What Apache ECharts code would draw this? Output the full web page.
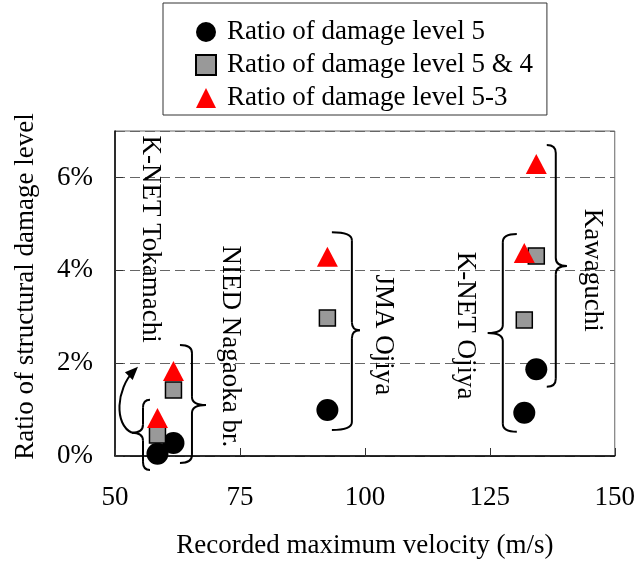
<!DOCTYPE html>
<html>
<head>
<meta charset="utf-8">
<script src="https://cdn.jsdelivr.net/npm/echarts@6/dist/echarts.min.js"></script>
<style>
  html, body { margin: 0; padding: 0; background: #fff; }
  #chart { width: 638px; height: 565px; }
</style>
</head>
<body>
<div id="chart"></div>
<script>
// Observation sites and recorded maximum velocity (m/s)
const sites = ['K-NET Tokamachi', 'NIED Nagaoka br.', 'JMA Ojiya', 'K-NET Ojiya', 'Kawaguchi'];
const velocity = [58.5, 61.7, 92.5, 131.9, 134.3];

// Ratio of structural damage (%) per site
const ratioLevel5 = [0.05, 0.28, 0.99, 0.93, 1.87];
const ratioLevel54 = [0.45, 1.42, 2.97, 2.93, 4.31];
const ratioLevel53 = [0.82, 1.83, 4.29, 4.37, 6.29];

// Axis ticks
const xTicks = [50, 75, 100, 125, 150];
const yTicks = [0, 2, 4, 6];

const seriesNames = ['Ratio of damage level 5', 'Ratio of damage level 5 & 4', 'Ratio of damage level 5-3'];

// Brace annotations grouping each site's markers (anchored in axis units)
const annotations = [
  { site: 0, spine: 55.6, top: 1.21, tip: 0.50, bottom: -0.30, side: -1, hook: 7, reach: 11, labelX: 57.0, labelY: 4.67 },
  { site: 1, spine: 65.4, top: 2.39, tip: 1.10, bottom: -0.15, side: 1, hook: 12, reach: 14, labelX: 73.0, labelY: 2.36 },
  { site: 2, spine: 97.4, top: 4.82, tip: 2.71, bottom: 0.56, side: 1, hook: 20, reach: 8, labelX: 103.6, labelY: 2.61 },
  { site: 3, spine: 127.6, top: 4.78, tip: 2.65, bottom: 0.52, side: -1, hook: 14, reach: 15, labelX: 120.0, labelY: 2.81 },
  { site: 4, spine: 138.2, top: 6.70, tip: 4.09, bottom: 1.49, side: 1, hook: 9, reach: 11, labelX: 145.4, labelY: 4.00 }
];
// Arrow from the Tokamachi brace up to its label
const arrowEnd = [54.6, 1.92];

const FONT = '"Liberation Serif", "Times New Roman", serif';
const pairs = (ys) => velocity.map((v, i) => [v, ys[i]]);

const chart = echarts.init(document.getElementById('chart'), null, { renderer: 'canvas' });

const option = {
  animation: false,
  backgroundColor: '#ffffff',
  textStyle: { fontFamily: FONT, color: '#000' },
  grid: {
    left: 115, right: 23, top: 131, bottom: 109,
    show: true, borderColor: '#666', borderWidth: 1, backgroundColor: 'transparent'
  },
  legend: {
    orient: 'vertical',
    left: 163, top: 3,
    padding: [14, 14, 2, 32],
    itemGap: 3,
    itemWidth: 20, itemHeight: 20,
    borderColor: '#333', borderWidth: 1,
    data: seriesNames,
    textStyle: { fontFamily: FONT, fontSize: 27, color: '#000', lineHeight: 30, padding: [0, 0, 0, 6] }
  },
  xAxis: {
    type: 'value',
    min: xTicks[0], max: xTicks[xTicks.length - 1], interval: xTicks[1] - xTicks[0],
    name: 'Recorded maximum velocity (m/s)',
    nameLocation: 'middle', nameGap: 76,
    nameTextStyle: { fontFamily: FONT, fontSize: 27, color: '#000' },
    axisLine: { show: true, lineStyle: { color: '#000', width: 1.5 } },
    axisTick: { show: true, inside: true, length: 8, lineStyle: { color: '#333', width: 1 } },
    axisLabel: { fontFamily: FONT, fontSize: 27, color: '#000', margin: 28 },
    splitLine: { show: false }
  },
  yAxis: {
    type: 'value',
    min: yTicks[0], max: 7, interval: yTicks[1] - yTicks[0],
    name: 'Ratio of structural damage level',
    nameLocation: 'middle', nameGap: 76,
    nameTextStyle: { fontFamily: FONT, fontSize: 27, color: '#000', padding: [0, 0, 0, 14] },
    axisLine: { show: true, lineStyle: { color: '#000', width: 1.5 } },
    axisTick: { show: true, inside: true, length: 8, lineStyle: { color: '#333', width: 1 } },
    axisLabel: {
      fontFamily: FONT, fontSize: 27, color: '#000', margin: 22, showMaxLabel: false,
      padding: [6, 0, 0, 0],
      formatter: (v) => (yTicks.indexOf(v) >= 0 ? v + '%' : '')
    },
    splitLine: { show: true, lineStyle: { color: '#666', width: 1, type: [10, 5] } }
  },
  series: [
    {
      name: seriesNames[0], type: 'scatter', clip: false, z: 3,
      symbol: 'circle', symbolSize: 22,
      itemStyle: { color: '#000', opacity: 1 },
      data: pairs(ratioLevel5)
    },
    {
      name: seriesNames[1], type: 'scatter', clip: false, z: 4,
      symbol: 'rect', symbolSize: 16,
      itemStyle: { color: '#999999', borderColor: '#000', borderWidth: 1.5, opacity: 1 },
      data: pairs(ratioLevel54)
    },
    {
      name: seriesNames[2], type: 'scatter', clip: false, z: 5,
      symbol: 'triangle', symbolSize: [21, 20],
      itemStyle: { color: '#ff0000', opacity: 1 },
      data: pairs(ratioLevel53)
    }
  ]
};

chart.setOption(option);

const px = (x, y) => chart.convertToPixel({ gridIndex: 0 }, [x, y]);
const graphics = [];
const stroke = { fill: null, stroke: '#000', lineWidth: 2 };

function quad(x1, y1, cx, cy, x2, y2) {
  return { type: 'bezierCurve', z: 10, shape: { x1: x1, y1: y1, cpx1: cx, cpy1: cy, x2: x2, y2: y2 }, style: stroke };
}
function seg(x1, y1, x2, y2) {
  return { type: 'line', z: 10, shape: { x1: x1, y1: y1, x2: x2, y2: y2 }, style: stroke };
}

// Curly brace: spine at s, hooks toward -side, tip toward +side
function brace(s, y1, yt, y2, side, hook, reach) {
  const r = Math.min(8, (yt - y1) / 3, (y2 - yt) / 3);
  const h = s - side * hook;
  const t = s + side * reach;
  return [
    quad(h, y1, s, y1, s, y1 + r),
    seg(s, y1 + r, s, yt - r),
    quad(s, yt - r, s, yt, t, yt),
    quad(t, yt, s, yt, s, yt + r),
    seg(s, yt + r, s, y2 - r),
    quad(s, y2 - r, s, y2, h, y2)
  ];
}

annotations.forEach((a) => {
  const top = px(a.spine, a.top);
  const tip = px(a.spine, a.tip);
  const bottom = px(a.spine, a.bottom);
  brace(top[0], top[1], tip[1], bottom[1], a.side, a.hook, a.reach).forEach((g) => graphics.push(g));
  const lp = px(a.labelX, a.labelY);
  graphics.push({
    type: 'text', z: 10,
    x: lp[0], y: lp[1], rotation: -Math.PI / 2,
    style: {
      text: sites[a.site], font: '27px ' + FONT, fill: '#000',
      align: 'center', verticalAlign: 'middle'
    }
  });
});

// Curved arrow linking the Tokamachi brace to its label
(function () {
  const a = annotations[0];
  const tip = px(a.spine, a.tip);
  const sx = tip[0] - a.reach;
  const sy = tip[1];
  const e = px(arrowEnd[0], arrowEnd[1]);
  const c1 = [sx - 18, sy - 8];
  const c2 = [e[0] - 22, e[1] + 22];
  graphics.push({
    type: 'bezierCurve', z: 10,
    shape: { x1: sx, y1: sy, cpx1: c1[0], cpy1: c1[1], cpx2: c2[0], cpy2: c2[1], x2: e[0] - 4, y2: e[1] + 4 },
    style: stroke
  });
  const dx = e[0] - c2[0], dy = e[1] - c2[1];
  const len = Math.hypot(dx, dy);
  const ux = dx / len, uy = dy / len;
  const bx = e[0] - ux * 13, by = e[1] - uy * 13;
  const nx = -uy * 5.5, ny = ux * 5.5;
  graphics.push({
    type: 'polygon', z: 11,
    shape: { points: [[e[0], e[1]], [bx + nx, by + ny], [bx - nx, by - ny]] },
    style: { fill: '#000' }
  });
})();

chart.setOption({ graphic: graphics });
</script>
</body>
</html>
